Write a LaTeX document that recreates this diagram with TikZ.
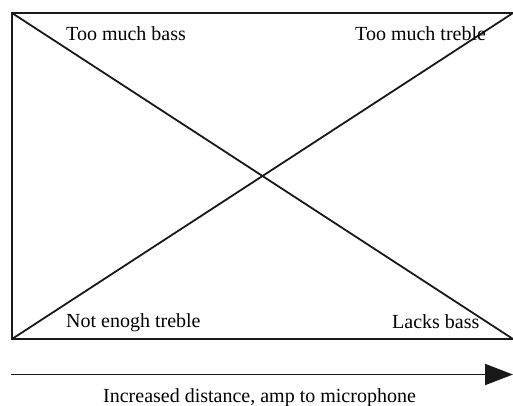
\documentclass[tikz,border=0pt]{standalone}
\usepackage{fontspec}
\setmainfont{Liberation Serif}
\usetikzlibrary{arrows.meta}

\begin{document}
\begin{tikzpicture}[
  x=1pt, y=-1pt,
  font=\fontsize{20}{24}\selectfont,
  edge/.style={line width=1.8pt, draw=black!90},
  lbl/.style={inner sep=0pt, anchor=base west},
  axis/.style={-{Triangle[length=28pt,width=21pt]}, line width=1.8pt, draw=black!90},
]
\useasboundingbox (0,0) rectangle (513,405);

% ---------- frame ----------
\coordinate (TL) at (12,13);
\coordinate (TR) at (518,13);
\coordinate (BL) at (12,339);
\coordinate (BR) at (518,339);
\draw[edge] (TR) -- (TL) -- (BL) -- (BR);

% ---------- diagonals ----------
\draw[edge] (TL) -- (513,339);
\draw[edge] (BL) -- (513,13);

% ---------- corner labels ----------
\node[lbl] (bass)   at (66,40)   {Too much bass};
\node[lbl] (treble) at (355,40)  {Too much treble};
\node[lbl] (notreb) at (66,327)  {Not enogh treble};
\node[lbl] (lacks)  at (392,328) {Lacks bass};

% ---------- distance axis ----------
\coordinate (A0) at (11,374.5);
\coordinate (A1) at (513,374.5);
\draw[axis] (A0) -- (A1);
\node[lbl] (dist) at (103,402) {Increased distance, amp to microphone};

\end{tikzpicture}
\end{document}
